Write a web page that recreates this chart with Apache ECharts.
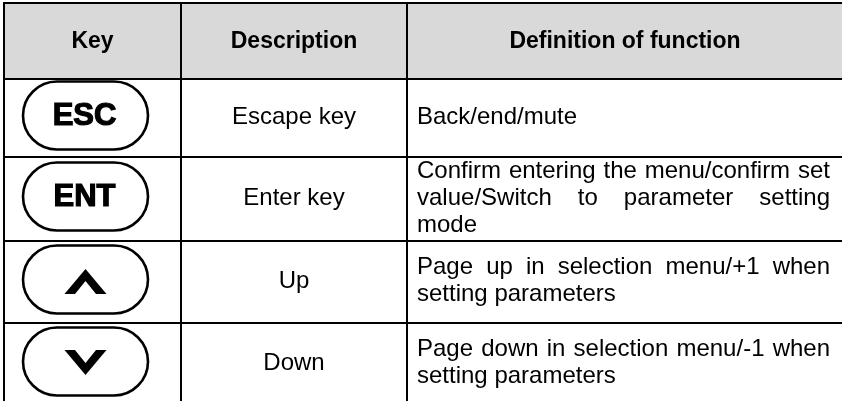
<!DOCTYPE html>
<html><head><meta charset="utf-8">
<script src="https://cdn.jsdelivr.net/npm/echarts/dist/echarts.min.js"></script>
<style>html,body{margin:0;padding:0;background:#fff}#c{width:842px;height:401px}</style>
</head><body><div id="c"></div>
<script>
// ---- data ----
const headers = ['Key', 'Description', 'Definition of function'];
const keyLabels = ['ESC', 'ENT', 'up', 'down'];
const descriptions = ['Escape key', 'Enter key', 'Up', 'Down'];
const definitions = [
  ['Back/end/mute'],
  ['Confirm entering the menu/confirm set', 'value/Switch to parameter setting', 'mode'],
  ['Page up in selection menu/+1 when', 'setting parameters'],
  ['Page down in selection menu/-1 when', 'setting parameters']
];

// ---- layout ----
const colEdges = [4, 181, 407, 843];
const rowEdges = [3, 79, 157, 241, 323, 405];
const FAMILY = '"Liberation Sans", Arial, sans-serif';
const BODY = 24, HEAD = 23, KEYF = 31, LH = 27;
const PADL = 10, PADR = 13;

const cvs = document.createElement('canvas').getContext('2d');
function measure(t, size, weight) {
  cvs.font = (weight || 'normal') + ' ' + size + 'px ' + FAMILY;
  return cvs.measureText(t).width;
}
function txt(t, x, y, size, weight, align) {
  return {
    type: 'text', silent: true,
    style: {
      text: t, x: x, y: y, fill: '#000',
      fontSize: size, fontFamily: FAMILY, fontWeight: weight || 'normal',
      align: align || 'center', verticalAlign: 'middle',
      textAlign: align || 'center', textVerticalAlign: 'middle'
    }
  };
}

const els = [];
const L = colEdges[0], R = colEdges[colEdges.length - 1];
const T = rowEdges[0], B = rowEdges[rowEdges.length - 1];
// header background
els.push({ type: 'rect', silent: true, shape: { x: L, y: T, width: R - L, height: rowEdges[1] - T },
  style: { fill: '#d9d9d9' } });

// header texts
headers.forEach((h, i) => {
  const cx = (colEdges[i] + colEdges[i + 1]) / 2;
  const cy = (rowEdges[0] + rowEdges[1]) / 2 + 1;
  els.push(txt(h, cx, cy, HEAD, 'bold'));
});

// body rows
descriptions.forEach((d, r) => {
  const y0 = rowEdges[r + 1], y1 = rowEdges[r + 2];
  const cy = (y0 + y1) / 2 - 1;
  // key oval
  const kx = 85.5, ky = cy - 1.5, kw = 125, kh = 68;
  els.push({ type: 'rect', silent: true,
    shape: { x: kx - kw / 2, y: ky - kh / 2, width: kw, height: kh, r: kh / 2 },
    style: { fill: 'none', stroke: '#000', lineWidth: 2.6 } });
  const k = keyLabels[r];
  if (k === 'up' || k === 'down') {
    const s = k === 'up' ? 1 : -1;
    const ay = ky + (k === 'up' ? 2 : 1);
    els.push({ type: 'polygon', silent: true,
      shape: { points: [
        [kx - 21, ay + 12.5 * s], [kx, ay - 12.5 * s], [kx + 21, ay + 12.5 * s],
        [kx + 10.5, ay + 12.5 * s], [kx, ay - 0.5 * s], [kx - 10.5, ay + 12.5 * s]
      ] },
      style: { fill: '#000' } });
  } else {
    const t = txt(k, kx - 1, ky + 1, KEYF, 'bold');
    t.style.stroke = '#000'; t.style.lineWidth = 1.2;
    els.push(t);
  }
  // description
  els.push(txt(d, (colEdges[1] + colEdges[2]) / 2, cy, BODY));
  // definition (justified)
  const lines = definitions[r];
  const x0 = colEdges[2] + PADL, x1 = R - PADR;
  const top = cy - (lines.length - 1) * LH / 2;
  lines.forEach((ln, li) => {
    const y = top + li * LH;
    const words = ln.split(' ');
    if (li === lines.length - 1 || words.length < 2) {
      els.push(txt(ln, x0, y, BODY, 'normal', 'left'));
    } else {
      const ws = words.map(w => measure(w, BODY));
      const tot = ws.reduce((a, b) => a + b, 0);
      const gap = (x1 - x0 - tot) / (words.length - 1);
      let x = x0;
      words.forEach((w, wi) => {
        els.push(txt(w, x, y, BODY, 'normal', 'left'));
        x += ws[wi] + gap;
      });
    }
  });
});

// grid lines
rowEdges.forEach(y => els.push({ type: 'line', silent: true,
  shape: { x1: L - 1, y1: y, x2: R, y2: y }, style: { stroke: '#000', lineWidth: 2 } }));
colEdges.forEach(x => els.push({ type: 'line', silent: true,
  shape: { x1: x, y1: T, x2: x, y2: B }, style: { stroke: '#000', lineWidth: 2 } }));

const chart = echarts.init(document.getElementById('c'), null, { renderer: 'canvas' });
chart.setOption({ animation: false, backgroundColor: '#fff', graphic: { elements: els } });
</script></body></html>
